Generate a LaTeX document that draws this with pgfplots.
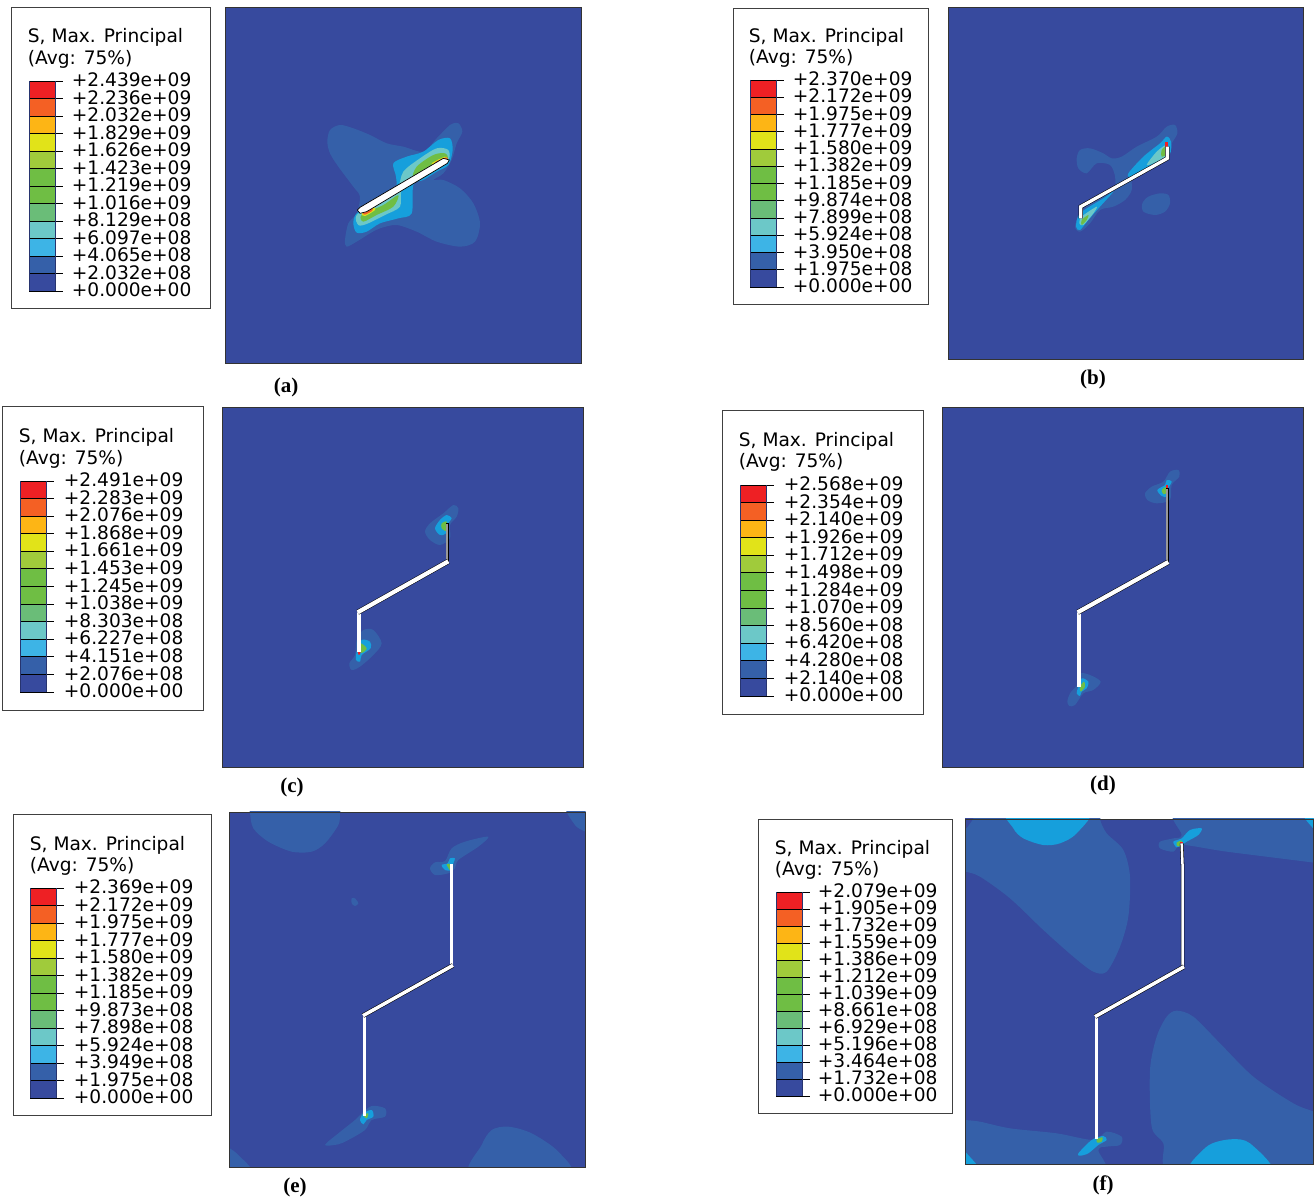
\documentclass[border=0pt]{standalone}
\usepackage{fontspec}
\usepackage{pgfplots}
\pgfplotsset{compat=1.18}
\setmainfont{DejaVu Sans}
\newfontfamily\capfont{Liberation Serif}
\definecolor{lA}{HTML}{374A9E}
\definecolor{lB}{HTML}{3560A9}
\definecolor{lC}{HTML}{169FDC}
\definecolor{lD}{HTML}{6CC8C8}
\definecolor{lE}{HTML}{6ABD78}
\definecolor{lF}{HTML}{6FBE44}
\definecolor{lG}{HTML}{A0CB3B}
\definecolor{lH}{HTML}{E1E319}
\definecolor{lI}{HTML}{FDB515}
\definecolor{lJ}{HTML}{F46024}
\definecolor{lK}{HTML}{EE2024}
\definecolor{lC2}{HTML}{3DB4E6}
\pgfplotsset{
  panel/.style n args={7}{
    at={(#1pt,#7pt)},anchor=south west,scale only axis,
    width=#5pt,height=#6pt,
    xmin=#1,xmax=#2,ymin=#3,ymax=#4,y dir=reverse,
    xtick=\empty,ytick=\empty,no markers,axis on top,
    axis background/.style={fill=lA},
    axis line style={draw=black!80,line width=0.9pt}},
  blob/.style={draw=none,fill=#1,smooth cycle},
  poly/.style={draw=none,fill=#1},
  z/.style n args={3}{x filter/.expression={#1+x/#3},y filter/.expression={#2+y/#3}},
  crackb/.style={draw=black,line width=4.4pt,line join=miter,miter limit=4},
  crackw/.style={draw=white,line width=3.3pt,line join=miter,miter limit=4},
}
\newcommand\TK[4]{\addplot[draw=black,line width=0.9pt] coordinates {(#1,{#2+#4*#3}) ({#1+34},{#2+#4*#3})};}
\newcommand\CBAR[3]{% left x, top y, step
  \addplot[poly=lK] coordinates {(#1,{#2+0*#3}) ({#1+26},{#2+0*#3}) ({#1+26},{#2+1*#3}) (#1,{#2+1*#3})};
  \addplot[poly=lJ] coordinates {(#1,{#2+1*#3}) ({#1+26},{#2+1*#3}) ({#1+26},{#2+2*#3}) (#1,{#2+2*#3})};
  \addplot[poly=lI] coordinates {(#1,{#2+2*#3}) ({#1+26},{#2+2*#3}) ({#1+26},{#2+3*#3}) (#1,{#2+3*#3})};
  \addplot[poly=lH] coordinates {(#1,{#2+3*#3}) ({#1+26},{#2+3*#3}) ({#1+26},{#2+4*#3}) (#1,{#2+4*#3})};
  \addplot[poly=lG] coordinates {(#1,{#2+4*#3}) ({#1+26},{#2+4*#3}) ({#1+26},{#2+5*#3}) (#1,{#2+5*#3})};
  \addplot[poly=lF] coordinates {(#1,{#2+5*#3}) ({#1+26},{#2+5*#3}) ({#1+26},{#2+7*#3}) (#1,{#2+7*#3})};
  \addplot[poly=lE] coordinates {(#1,{#2+7*#3}) ({#1+26},{#2+7*#3}) ({#1+26},{#2+8*#3}) (#1,{#2+8*#3})};
  \addplot[poly=lD] coordinates {(#1,{#2+8*#3}) ({#1+26},{#2+8*#3}) ({#1+26},{#2+9*#3}) (#1,{#2+9*#3})};
  \addplot[poly=lC2] coordinates {(#1,{#2+9*#3}) ({#1+26},{#2+9*#3}) ({#1+26},{#2+10*#3}) (#1,{#2+10*#3})};
  \addplot[poly=lB] coordinates {(#1,{#2+10*#3}) ({#1+26},{#2+10*#3}) ({#1+26},{#2+11*#3}) (#1,{#2+11*#3})};
  \addplot[poly=lA] coordinates {(#1,{#2+11*#3}) ({#1+26},{#2+11*#3}) ({#1+26},{#2+12*#3}) (#1,{#2+12*#3})};
  \TK{#1}{#2}{#3}{0}\TK{#1}{#2}{#3}{1}\TK{#1}{#2}{#3}{2}\TK{#1}{#2}{#3}{3}\TK{#1}{#2}{#3}{4}\TK{#1}{#2}{#3}{5}\TK{#1}{#2}{#3}{6}\TK{#1}{#2}{#3}{7}\TK{#1}{#2}{#3}{8}\TK{#1}{#2}{#3}{9}\TK{#1}{#2}{#3}{10}\TK{#1}{#2}{#3}{11}\TK{#1}{#2}{#3}{12}
  \addplot[draw=lA!70!black,line width=0.9pt] coordinates {(#1,#2) (#1,{#2+12*#3})};
  \addplot[draw=lA!70!black,line width=0.9pt] coordinates {({#1+26},#2) ({#1+26},{#2+12*#3})};
}
\newcommand\BOX[4]{\addplot[draw=black!75,line width=0.9pt,fill=white] coordinates {(#1,#3) ({#2},#3) ({#2},{#4}) (#1,{#4}) (#1,#3)};}
\newcommand\TT[3]{\node[anchor=base west,yshift=-6.6pt,xshift=-0.3pt,inner sep=0pt,font=\fontsize{18.6}{22}\selectfont] at (axis cs:#1,#2) {#3};}
\newcommand\CAP[3]{\node[anchor=center,inner sep=0pt,font=\capfont\bfseries\fontsize{21}{24}\selectfont] at (axis cs:#1,{#2+1.5}) {#3};}
\begin{document}
\begin{tikzpicture}
% ---------- page axis: legends and captions, in pixel units
\begin{axis}[at={(0pt,0pt)},anchor=south west,scale only axis,width=1314pt,height=1198pt,
  xmin=0,xmax=1314,ymin=0,ymax=1198,y dir=reverse,axis lines=none,no markers,clip=false]
\addplot[poly=white] coordinates {(0,0) (1314,0) (1314,1198) (0,1198)};
\BOX{11}{210}{7}{308}
\CBAR{29}{81}{17.5}
\TT{28}{36}{S, Max. Principal}\TT{28}{58}{(Avg: 75\%)}
\TT{72}{80}{+2.439e+09}\TT{72}{97.5}{+2.236e+09}\TT{72}{115}{+2.032e+09}\TT{72}{132.5}{+1.829e+09}\TT{72}{150}{+1.626e+09}\TT{72}{167.5}{+1.423e+09}\TT{72}{185}{+1.219e+09}\TT{72}{202.5}{+1.016e+09}\TT{72}{220}{+8.129e+08}\TT{72}{237.5}{+6.097e+08}\TT{72}{255}{+4.065e+08}\TT{72}{272.5}{+2.032e+08}\TT{72}{290}{+0.000e+00}
\BOX{733}{928}{8}{304}
\CBAR{750}{80}{17.25}
\TT{749}{36}{S, Max. Principal}\TT{749}{57}{(Avg: 75\%)}
\TT{793}{79}{+2.370e+09}\TT{793}{96.25}{+2.172e+09}\TT{793}{113.5}{+1.975e+09}\TT{793}{130.75}{+1.777e+09}\TT{793}{148}{+1.580e+09}\TT{793}{165.25}{+1.382e+09}\TT{793}{182.5}{+1.185e+09}\TT{793}{199.75}{+9.874e+08}\TT{793}{217}{+7.899e+08}\TT{793}{234.25}{+5.924e+08}\TT{793}{251.5}{+3.950e+08}\TT{793}{268.75}{+1.975e+08}\TT{793}{286}{+0.000e+00}
\BOX{2}{203}{406}{710}
\CBAR{20}{481}{17.58}
\TT{19}{436}{S, Max. Principal}\TT{19}{458}{(Avg: 75\%)}
\TT{64}{480}{+2.491e+09}\TT{64}{497.6}{+2.283e+09}\TT{64}{515.2}{+2.076e+09}\TT{64}{532.8}{+1.868e+09}\TT{64}{550.3}{+1.661e+09}\TT{64}{567.9}{+1.453e+09}\TT{64}{585.5}{+1.245e+09}\TT{64}{603.1}{+1.038e+09}\TT{64}{620.7}{+8.303e+08}\TT{64}{638.3}{+6.227e+08}\TT{64}{655.8}{+4.151e+08}\TT{64}{673.4}{+2.076e+08}\TT{64}{691}{+0.000e+00}
\BOX{722}{923}{410}{714}
\CBAR{740}{485}{17.58}
\TT{739}{440}{S, Max. Principal}\TT{739}{461}{(Avg: 75\%)}
\TT{784}{484}{+2.568e+09}\TT{784}{501.6}{+2.354e+09}\TT{784}{519.2}{+2.140e+09}\TT{784}{536.8}{+1.926e+09}\TT{784}{554.3}{+1.712e+09}\TT{784}{571.9}{+1.498e+09}\TT{784}{589.5}{+1.284e+09}\TT{784}{607.1}{+1.070e+09}\TT{784}{624.7}{+8.560e+08}\TT{784}{642.3}{+6.420e+08}\TT{784}{659.8}{+4.280e+08}\TT{784}{677.4}{+2.140e+08}\TT{784}{695}{+0.000e+00}
\BOX{13}{211}{814}{1115}
\CBAR{30}{888}{17.5}
\TT{30}{844}{S, Max. Principal}\TT{30}{865}{(Avg: 75\%)}
\TT{74}{887}{+2.369e+09}\TT{74}{904.5}{+2.172e+09}\TT{74}{922}{+1.975e+09}\TT{74}{939.5}{+1.777e+09}\TT{74}{957}{+1.580e+09}\TT{74}{974.5}{+1.382e+09}\TT{74}{992}{+1.185e+09}\TT{74}{1009.5}{+9.873e+08}\TT{74}{1027}{+7.898e+08}\TT{74}{1044.5}{+5.924e+08}\TT{74}{1062}{+3.949e+08}\TT{74}{1079.5}{+1.975e+08}\TT{74}{1097}{+0.000e+00}
\BOX{758}{952}{819}{1113}
\CBAR{776}{892}{17}
\TT{775}{848}{S, Max. Principal}\TT{775}{869}{(Avg: 75\%)}
\TT{818}{891}{+2.079e+09}\TT{818}{908}{+1.905e+09}\TT{818}{925}{+1.732e+09}\TT{818}{942}{+1.559e+09}\TT{818}{959}{+1.386e+09}\TT{818}{976}{+1.212e+09}\TT{818}{993}{+1.039e+09}\TT{818}{1010}{+8.661e+08}\TT{818}{1027}{+6.929e+08}\TT{818}{1044}{+5.196e+08}\TT{818}{1061}{+3.464e+08}\TT{818}{1078}{+1.732e+08}\TT{818}{1095}{+0.000e+00}
\CAP{286}{386}{(a)}\CAP{1093}{378}{(b)}\CAP{292}{786}{(c)}\CAP{1103}{784}{(d)}\CAP{295}{1186}{(e)}\CAP{1103}{1184}{(f)}
\end{axis}
% ---------- (a)
\begin{axis}[panel={225.2}{581.6}{7}{363}{356.4}{356}{835}]
\addplot[blob=lB,z={310}{100}{3}] coordinates {(52,125)(60,90)(90,75)(130,85)(180,105)(230,130)(280,140)(340,155)(380,115)(420,75)(445,70)(457,95)(440,130)(425,180)(400,220)(370,240)(400,240)(450,265)(490,310)(510,370)(495,425)(450,440)(380,425)(320,395)(260,375)(210,385)(180,400)(140,425)(110,440)(105,420)(115,370)(140,340)(150,290)(130,260)(85,200)(60,160)};
\addplot[blob=lC,z={310}{100}{3}] coordinates {(250,190)(290,170)(340,155)(385,120)(420,115)(428,150)(415,195)(380,215)(340,240)(310,255)(305,340)(265,355)(210,370)(170,395)(140,398)(130,370)(140,340)(190,310)(255,270)(258,230)};
\addplot[blob=lD,z={310}{100}{3}] coordinates {(280,215)(330,175)(380,145)(415,150)(415,180)(370,205)(320,235)(275,270)(270,320)(225,345)(170,372)(145,375)(140,345)(200,305)(260,270)};
\addplot[blob=lF,z={310}{100}{3}] coordinates {(320,200)(370,165)(405,160)(412,178)(370,200)(310,235)};
\addplot[blob=lF,z={310}{100}{3}] coordinates {(155,345)(220,315)(265,285)(250,320)(200,345)(160,365)};
\addplot[blob=lH,z={310}{100}{3}] coordinates {(365,190)(405,170)(410,180)(375,198)};
\addplot[blob=lJ,z={310}{100}{3}] coordinates {(375,187)(408,172)(412,180)(385,192)};
\addplot[blob=lH,z={310}{100}{3}] coordinates {(155,340)(190,322)(195,330)(165,348)};
\addplot[blob=lJ,z={310}{100}{3}] coordinates {(158,338)(185,324)(187,332)(165,344)};
\addplot[poly=white,draw=black,line width=0.7pt,line join=miter,z={310}{100}{3}] coordinates {(142,330)(150,322)(400,175)(418,180)(412,190)(170,335)(150,340)(142,330)};
\end{axis}
% ---------- (b)
\begin{axis}[panel={948.2}{1303.6}{7}{359}{355.4}{352}{839}]
\addplot[blob=lB,z={1060}{110}{3}] coordinates {(50,145)(60,120)(90,115)(130,130)(155,145)(185,140)(230,110)(290,80)(320,50)(345,45)(352,70)(335,100)(320,130)(300,160)(240,180)(215,195)(215,240)(195,270)(160,290)(120,300)(90,340)(60,365)(45,350)(60,310)(100,270)(160,240)(165,200)(150,165)(110,160)(80,190)(55,175)};
\addplot[blob=lB,z={1060}{110}{3}] coordinates {(247,280)(265,260)(300,250)(325,255)(330,280)(315,305)(285,315)(250,305)};
\addplot[blob=lC,z={1060}{110}{3}] coordinates {(205,190)(250,140)(300,100)(320,80)(333,95)(328,135)(280,165)(215,200)};
\addplot[blob=lC,z={1060}{110}{3}] coordinates {(60,310)(130,265)(160,245)(120,290)(85,330)(60,360)(48,350)};
\addplot[blob=lD,z={1060}{110}{3}] coordinates {(290,125)(320,105)(325,135)(290,155)(260,165)};
\addplot[blob=lD,z={1060}{110}{3}] coordinates {(65,320)(110,290)(100,310)(70,345)(58,340)};
\addplot[blob=lF,z={1060}{110}{3}] coordinates {(305,120)(320,108)(322,130)(305,140)};
\addplot[blob=lF,z={1060}{110}{3}] coordinates {(65,330)(85,315)(80,330)(65,345)};
\addplot[poly=lK,z={1060}{110}{3}] coordinates {(316,96)(325,96)(325,110)(316,110)};
\addplot[crackb,z={1060}{110}{3}] coordinates {(62,325)(62,290)(322,145)(322,110)};
\addplot[crackw,z={1060}{110}{3}] coordinates {(62,325)(62,290)(322,145)(322,110)};
\end{axis}
% ---------- (c)
\begin{axis}[panel={222.2}{583.6}{407}{767}{361.4}{360}{431}]
\addplot[blob=lB,z={340}{500}{3}] coordinates {(255,95)(270,70)(310,40)(340,15)(355,25)(350,50)(330,75)(330,115)(300,135)(270,120)};
\addplot[blob=lC,z={340}{500}{3}] coordinates {(285,85)(300,60)(320,45)(335,55)(325,70)(318,100)(300,105)};
\addplot[blob=lF,z={340}{500}{3}] coordinates {(305,70)(320,65)(318,92)(305,85)};
\addplot[blob=lB,z={340}{500}{3}] coordinates {(28,490)(45,465)(50,420)(70,390)(100,390)(125,430)(100,465)(60,500)(35,510)};
\addplot[blob=lC,z={340}{500}{3}] coordinates {(48,480)(50,455)(65,420)(90,425)(92,445)(65,465)(60,485)};
\addplot[blob=lF,z={340}{500}{3}] coordinates {(62,430)(80,445)(68,458)(60,455)};
\addplot[poly=lK,z={340}{500}{3}] coordinates {(53,454)(62,454)(60,464)(55,464)};
\addplot[crackb,z={340}{500}{3}] coordinates {(57,455)(57,335)};
\addplot[crackw,z={340}{500}{3}] coordinates {(57,455)(57,335)};
\addplot[draw=black,line width=3.4pt,z={340}{500}{3}] coordinates {(322,188)(322,70)};
\addplot[draw=black!40,line width=2pt,z={340}{500}{3}] coordinates {(322,185)(322,72)};
\addplot[crackb,line width=5.2pt,z={340}{500}{3}] coordinates {(53,337)(325,184)};
\addplot[crackw,line width=4.2pt,z={340}{500}{3}] coordinates {(53,337)(325,184)};
\end{axis}
% ---------- (d)
\begin{axis}[panel={942.2}{1303.6}{407}{767}{361.4}{360}{431}]
\addplot[blob=lB,z={1060}{460}{3}] coordinates {(255,100)(275,80)(310,65)(330,35)(355,30)(358,50)(335,75)(330,120)(290,130)(262,120)};
\addplot[blob=lC,z={1060}{460}{3}] coordinates {(292,90)(315,75)(320,60)(335,65)(325,85)(322,110)(305,108)};
\addplot[blob=lF,z={1060}{460}{3}] coordinates {(305,90)(320,80)(318,100)(310,102)};
\addplot[blob=lB,z={1060}{460}{3}] coordinates {(22,725)(30,700)(55,670)(60,640)(90,645)(122,665)(100,690)(70,700)(45,735)(28,738)};
\addplot[blob=lC,z={1060}{460}{3}] coordinates {(50,700)(55,680)(65,655)(85,665)(80,685)(65,695)(60,708)};
\addplot[blob=lF,z={1060}{460}{3}] coordinates {(60,680)(72,665)(75,680)(62,695)};
\addplot[poly=lK,z={1060}{460}{3}] coordinates {(317,75)(325,75)(325,85)(317,85)};
\addplot[crackb,z={1060}{460}{3}] coordinates {(57,682)(57,455)};
\addplot[crackw,z={1060}{460}{3}] coordinates {(57,682)(57,455)};
\addplot[draw=black,line width=3.4pt,z={1060}{460}{3}] coordinates {(322,311)(322,85)};
\addplot[draw=black!40,line width=2pt,z={1060}{460}{3}] coordinates {(322,308)(322,87)};
\addplot[crackb,line width=5.2pt,z={1060}{460}{3}] coordinates {(53,457)(325,306)};
\addplot[crackw,line width=4.2pt,z={1060}{460}{3}] coordinates {(53,457)(325,306)};
\end{axis}
% ---------- (e)
\begin{axis}[panel={229.7}{585.7}{812}{1167}{356}{355}{31}]
\addplot[blob=lB,z={225}{805}{3}] coordinates {(75,-20)(75,22)(85,70)(130,110)(200,140)(260,140)(300,115)(340,60)(345,22)(345,-20)};
\addplot[blob=lB,z={225}{805}{3}] coordinates {(1022,0)(1050,60)(1082,80)(1120,90)(1120,0)};
\addplot[blob=lB,z={225}{805}{3}] coordinates {(740,1110)(770,1020)(800,975)(850,965)(920,985)(1000,1040)(1030,1110)};
\addplot[blob=lB,z={225}{805}{3}] coordinates {(-10,1020)(14,1030)(40,1050)(80,1100)(-10,1110)};
\addplot[blob=lB,z={225}{805}{3}] coordinates {(380,280)(390,280)(400,295)(390,303)(380,295)};
\addplot[blob=lB,z={225}{805}{3}] coordinates {(615,190)(630,172)(660,168)(680,130)(720,110)(790,95)(760,125)(700,165)(690,190)(670,205)(630,210)};
\addplot[blob=lB,z={225}{805}{3}] coordinates {(300,1020)(340,985)(390,945)(410,925)(440,903)(480,910)(480,935)(440,945)(420,975)(370,1005)(340,1018)};
\addplot[blob=lC,z={225}{805}{3}] coordinates {(650,180)(668,175)(675,160)(690,160)(685,175)(680,195)(660,195)};
\addplot[blob=lC,z={225}{805}{3}] coordinates {(405,945)(415,925)(440,915)(445,935)(425,945)(415,958)};
\addplot[blob=lF,z={225}{805}{3}] coordinates {(665,178)(678,178)(675,195)};
\addplot[blob=lF,z={225}{805}{3}] coordinates {(415,930)(430,925)(425,940)};
\addplot[crackb,line width=3.6pt,z={225}{805}{3}] coordinates {(418,932)(418,630)};
\addplot[crackw,line width=2.5pt,z={225}{805}{3}] coordinates {(418,932)(418,630)};
\addplot[crackb,line width=3.6pt,z={225}{805}{3}] coordinates {(680,483)(680,178)};
\addplot[crackw,line width=2.5pt,z={225}{805}{3}] coordinates {(680,483)(680,178)};
\addplot[crackb,line width=4.6pt,z={225}{805}{3}] coordinates {(414,632)(684,481)};
\addplot[crackw,line width=3.5pt,z={225}{805}{3}] coordinates {(414,632)(684,481)};
\end{axis}
% ---------- (f)
\begin{axis}[panel={965.2}{1313.5}{819}{1164}{348.3}{345}{34}]
\addplot[blob=lB,z={960}{810}{3}] coordinates {(-20,0)(-20,180)(16,185)(60,200)(150,265)(250,360)(340,440)(400,485)(440,485)(480,410)(505,320)(510,200)(490,120)(440,70)(420,28)(420,-10)};
\addplot[blob=lB,z={960}{810}{3}] coordinates {(660,-10)(665,75)(640,85)(600,95)(600,115)(640,125)(668,105)(800,125)(1062,158)(1100,165)(1100,-10)};
\addplot[blob=lB,z={960}{810}{3}] coordinates {(650,602)(700,620)(780,700)(880,800)(1000,880)(1062,905)(1110,925)(1110,1100)(650,1100)(610,1000)(575,950)(570,780)(590,680)(620,620)};
\addplot[blob=lB,z={960}{810}{3}] coordinates {(-20,925)(16,930)(60,935)(150,955)(290,970)(400,990)(440,965)(485,980)(480,1005)(440,1010)(415,1020)(415,1100)(-20,1100)};
\addplot[blob=lA,z={960}{810}{3}] coordinates {(5,20)(40,20)(30,40)(15,55)};
\addplot[blob=lC,z={960}{810}{3}] coordinates {(145,0)(160,55)(190,85)(250,105)(300,100)(350,70)(385,0)};
\addplot[blob=lC,z={960}{810}{3}] coordinates {(690,1090)(740,1010)(810,988)(870,1000)(935,1090)};
\addplot[blob=lC,z={960}{810}{3}] coordinates {(0,1010)(20,1030)(55,1075)(0,1075)};
\addplot[blob=lC,z={960}{810}{3}] coordinates {(1030,15)(1070,15)(1070,60)(1055,50)};
\addplot[blob=lC,z={960}{810}{3}] coordinates {(640,95)(665,85)(690,60)(725,55)(715,75)(680,95)(665,105)(650,112)};
\addplot[blob=lC,z={960}{810}{3}] coordinates {(355,1030)(395,990)(430,978)(440,990)(415,1005)(385,1030)(360,1037)};
\addplot[blob=lF,z={960}{810}{3}] coordinates {(650,98)(665,92)(662,108)(652,108)};
\addplot[blob=lF,z={960}{810}{3}] coordinates {(410,988)(428,982)(425,995)(412,998)};
\addplot[poly=lK,z={960}{810}{3}] coordinates {(660,96)(668,96)(668,102)(660,102)};
\addplot[crackb,line width=3.6pt,z={960}{810}{3}] coordinates {(409,988)(409,618)};
\addplot[crackw,line width=2.5pt,z={960}{810}{3}] coordinates {(409,988)(409,618)};
\addplot[crackb,line width=3.6pt,z={960}{810}{3}] coordinates {(668,472)(668,175)(665,100)};
\addplot[crackw,line width=2.5pt,z={960}{810}{3}] coordinates {(668,472)(668,175)(665,100)};
\addplot[crackb,line width=4.6pt,z={960}{810}{3}] coordinates {(405,620)(672,470)};
\addplot[crackw,line width=3.5pt,z={960}{810}{3}] coordinates {(405,620)(672,470)};
\end{axis}
\end{tikzpicture}
\end{document}
